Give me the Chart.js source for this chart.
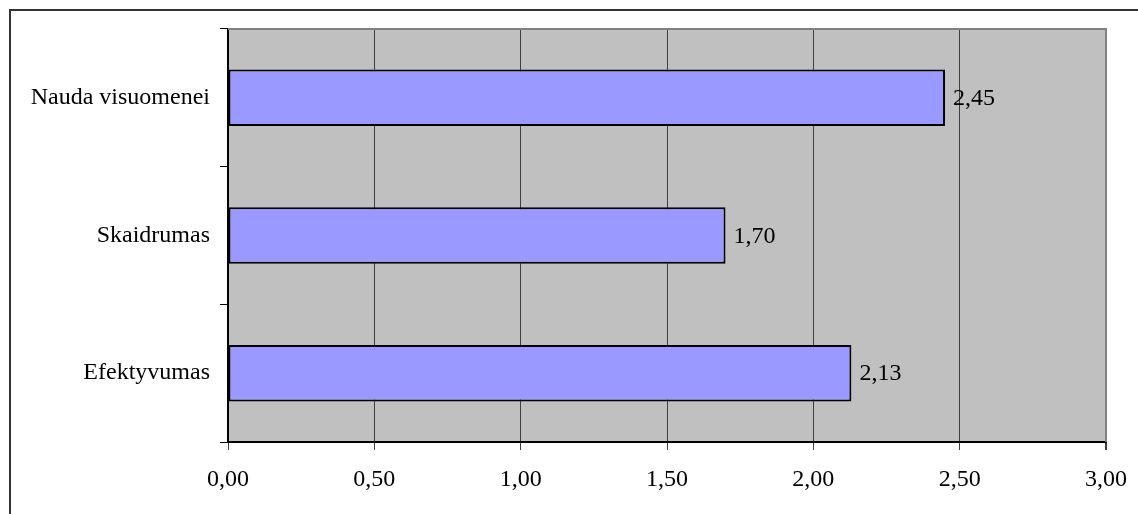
<!DOCTYPE html>
<html>
<head>
<meta charset="utf-8">
<script src="https://cdn.jsdelivr.net/npm/chart.js@4/dist/chart.umd.min.js"></script>
<style>
  html, body { margin: 0; padding: 0; background: #fff; }
  #wrap { width: 1138px; height: 514px; position: relative; }
</style>
</head>
<body>
<div id="wrap"><canvas id="chart"></canvas></div>
<script>
// chart data
const categories = ['Nauda visuomenei', 'Skaidrumas', 'Efektyvumas'];
const scores = [2.45, 1.70, 2.13];
const xTicks = [0, 0.5, 1, 1.5, 2, 2.5, 3];

const fmt = v => Number(v).toFixed(2).replace('.', ',');
const FONT = "'Liberation Serif', 'Times New Roman', serif";

// page frame + gray plot area
const backdrop = {
  id: 'backdrop',
  beforeDraw(chart) {
    const c = chart.ctx, a = chart.chartArea;
    c.save();
    c.fillStyle = '#fff';
    c.fillRect(0, 0, chart.width, chart.height);
    c.strokeStyle = '#333';
    c.lineWidth = 2;
    c.beginPath();
    c.moveTo(10, chart.height);
    c.lineTo(10, 10);
    c.lineTo(chart.width, 10);
    c.stroke();
    c.fillStyle = '#c0c0c0';
    c.fillRect(a.left, a.top, a.right - a.left, a.bottom - a.top);
    c.restore();
  },
  afterDatasetsDraw(chart) {
    const c = chart.ctx, a = chart.chartArea;
    c.save();
    c.strokeStyle = '#808080';
    c.lineWidth = 2;
    c.beginPath();
    c.moveTo(a.left, a.top);
    c.lineTo(a.right, a.top);
    c.lineTo(a.right, a.bottom);
    c.stroke();
    // value labels
    const meta = chart.getDatasetMeta(0);
    c.fillStyle = '#000';
    c.font = '24px ' + FONT;
    c.textBaseline = 'middle';
    c.textAlign = 'left';
    meta.data.forEach((bar, i) => {
      c.fillText(fmt(scores[i]), bar.x + 8, bar.y + 1);
    });
    c.restore();
  }
};

new Chart(document.getElementById('chart'), {
  type: 'bar',
  data: {
    labels: categories,
    datasets: [{
      data: scores,
      backgroundColor: '#9999ff',
      borderColor: '#000',
      borderWidth: 2,
      borderSkipped: false,
      categoryPercentage: 0.41,
      barPercentage: 1
    }]
  },
  options: {
    indexAxis: 'y',
    responsive: true,
    maintainAspectRatio: false,
    animation: false,
    layout: { padding: { top: 29, right: 32, left: 0, bottom: 0 } },
    plugins: { legend: { display: false }, tooltip: { enabled: false } },
    scales: {
      x: {
        min: 0,
        max: 3,
        afterBuildTicks: s => { s.ticks = xTicks.map(v => ({ value: v })); },
        afterFit: s => { s.height = 72; s.paddingLeft = 0; s.paddingRight = 0; },
        ticks: {
          color: '#000',
          font: { family: FONT, size: 24 },
          padding: 15,
          maxRotation: 0,
          callback: v => fmt(v)
        },
        grid: {
          color: ctx => ctx.index === xTicks.length - 1 ? '#808080' : '#404040',
          lineWidth: ctx => ctx.index === xTicks.length - 1 ? 2 : 1,
          tickColor: '#404040',
          tickLength: 8
        },
        border: { color: '#000', width: 2 }
      },
      y: {
        afterFit: s => { s.width = 228; },
        ticks: {
          color: '#000',
          font: { family: FONT, size: 24 },
          padding: 10
        },
        grid: {
          offset: true,
          drawOnChartArea: false,
          color: '#000',
          tickLength: 8
        },
        border: { color: '#000', width: 2 }
      }
    }
  },
  plugins: [backdrop]
});
</script>
</body>
</html>
